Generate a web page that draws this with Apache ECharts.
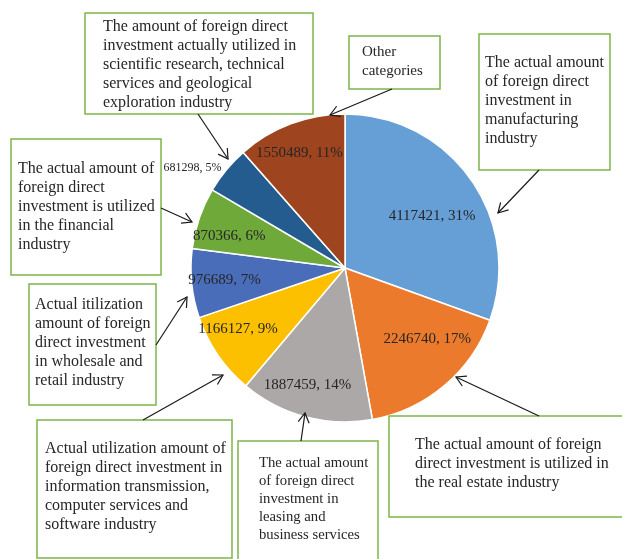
<!DOCTYPE html>
<html>
<head>
<meta charset="utf-8">
<script src="https://cdn.jsdelivr.net/npm/echarts@6/dist/echarts.min.js"></script>
<style>
html,body{margin:0;padding:0;background:#fff;}
#chart{width:622px;height:559px;}
</style>
</head>
<body>
<div id="chart"></div>
<script>
// ---- data ----
const categories = [
  'The actual amount\nof foreign direct\ninvestment in\nmanufacturing\nindustry',
  'The actual amount of foreign\ndirect investment is utilized in\nthe real estate industry',
  'The actual amount\nof foreign direct\ninvestment in\nleasing and\nbusiness services',
  'Actual utilization amount of\nforeign direct investment in\ninformation transmission,\ncomputer services and\nsoftware industry',
  'Actual itilization\namount of foreign\ndirect investment\nin wholesale and\nretail industry',
  'The actual amount of\nforeign direct\ninvestment is utilized\nin the financial\nindustry',
  'The amount of foreign direct\ninvestment actually utilized in\nscientific research, technical\nservices and geological\nexploration industry',
  'Other\ncategories'
];
const values = [4117421, 2246740, 1887459, 1166127, 976689, 870366, 681298, 1550489];

// ---- styles / layout (not data) ----
const colors = ['#669ED6', '#EC7A2C', '#ABA8A7', '#FCC000', '#4A6DB9', '#6FA93A', '#245C90', '#9E4520'];
const FONT = '"Liberation Serif", "DejaVu Serif", serif';
const labelOffsets = [[-7, 14], [8, -17], [-8, 6], [-12, -4], [-6, 0], [-7, 5], [3, 4], [-5, -7]];
const boxes = [ // x, y, w, h, textX, textY, fontSize, lineHeight
  [479, 34, 131, 136, 485, 53, 16, 19],
  [389, 416, 245, 101, 415, 435, 16, 19],
  [238, 441, 140, 125, 259, 454, 14.7, 18],
  [37, 420, 195, 138, 45, 439, 16, 19],
  [29, 284, 127, 121, 35, 295, 16, 19],
  [11, 139, 150, 136, 18, 159, 16, 19],
  [85, 13, 228, 101, 103, 17, 16, 19],
  [349, 36, 91, 53, 362, 43, 15, 19]
];
const arrows = [ // from x,y -> tip x,y
  [539, 170, 498, 213],
  [539, 416, 456, 377],
  [301, 441, 305, 413],
  [143, 420, 223, 375],
  [156, 345, 187, 297],
  [161, 208, 192, 222],
  [198, 114, 228, 159],
  [392, 89, 330, 115]
];

const graphics = [];
boxes.forEach((b, i) => {
  graphics.push({
    type: 'rect', shape: {x: b[0], y: b[1], width: b[2], height: b[3]},
    style: {fill: '#fff', stroke: '#7DB548', lineWidth: 1.5}, z: 10
  });
  graphics.push({
    type: 'text', x: b[4], y: b[5], z: 11,
    style: {text: categories[i], font: b[6] + 'px ' + FONT, lineHeight: b[7], fill: '#262626'}
  });
});
arrows.forEach(a => {
  const [x1, y1, x2, y2] = a;
  const ang = Math.atan2(y2 - y1, x2 - x1);
  const L = 11, spread = Math.PI / 6;
  const p1 = [x2 - L * Math.cos(ang - spread), y2 - L * Math.sin(ang - spread)];
  const p2 = [x2 - L * Math.cos(ang + spread), y2 - L * Math.sin(ang + spread)];
  graphics.push({type: 'line', shape: {x1, y1, x2, y2}, style: {stroke: '#1a1a1a', lineWidth: 1.2}, z: 12});
  graphics.push({type: 'polyline', shape: {points: [p1, [x2, y2], p2]}, style: {stroke: '#1a1a1a', lineWidth: 1.2, fill: null}, z: 12});
});

const pieData = values.map((v, i) => ({name: 'c' + i, value: v, itemStyle: {color: colors[i]}}));
const labelData = values.map((v, i) => {
  const d = {name: 'c' + i, value: v, label: {offset: labelOffsets[i]}};
  if (i === 6) {
    d.label = {position: 'outside', distanceToLabelLine: 0, fontSize: 12, offset: labelOffsets[i]};
    d.labelLine = {show: false, length: 10, length2: 0};
  }
  return d;
});

const chart = echarts.init(document.getElementById('chart'), null, {renderer: 'canvas'});
chart.setOption({
  animation: false,
  backgroundColor: '#fff',
  series: [
    {
      type: 'pie', center: [345, 268], radius: [0, 154], startAngle: 90, clockwise: true,
      silent: true, label: {show: false}, labelLine: {show: false},
      itemStyle: {borderColor: '#fff', borderWidth: 1.5},
      data: pieData
    },
    {
      type: 'pie', center: [345, 268], radius: [70, 154], startAngle: 90, clockwise: true,
      silent: true, avoidLabelOverlap: false, percentPrecision: 0,
      itemStyle: {color: 'rgba(0,0,0,0)', borderWidth: 0},
      label: {show: true, position: 'inside', formatter: '{c}, {d}%', color: '#262626', fontSize: 15, fontFamily: FONT},
      labelLine: {show: false},
      data: labelData
    }
  ],
  graphic: graphics
});
</script>
</body>
</html>
